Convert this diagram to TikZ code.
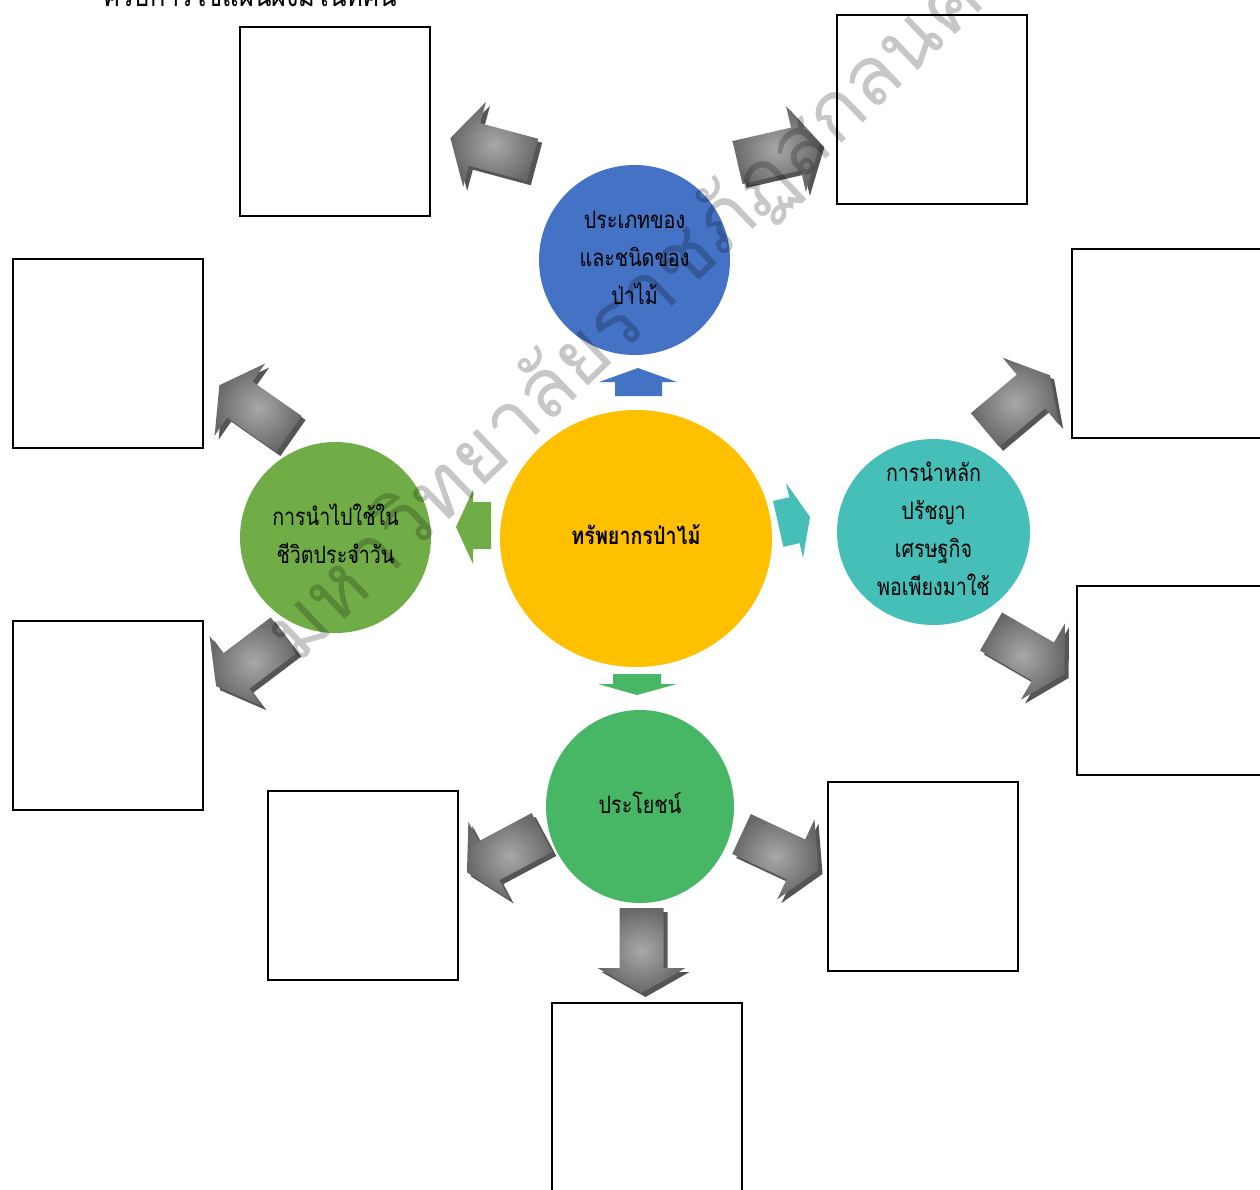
\documentclass[tikz,border=0pt]{standalone}
\usepackage{fontspec}
\newfontfamily\thai[Script=Thai]{Loma}
\newfontfamily\thaic[Script=Thai, FakeStretch=0.82]{Loma}
\usetikzlibrary{shapes.geometric}
\definecolor{cyel}{HTML}{FFC000}
\definecolor{cblue}{HTML}{4472C4}
\definecolor{cgreen}{HTML}{70AD47}
\definecolor{cteal}{HTML}{45BFB8}
\definecolor{cgreentwo}{HTML}{47B665}
\definecolor{gdark}{HTML}{555555}
\definecolor{glight}{HTML}{A8A8A8}
\definecolor{gout}{HTML}{686868}
\newcommand\garrow[3]{%
  \begin{scope}[shift={(#1+4,#2+4)},rotate=#3]
    \fill[gdark] (0,-22) -- (60,-22) -- (60,-44) -- (85,0) -- (60,44) -- (60,22) -- (0,22) -- cycle;
  \end{scope}
  \begin{scope}[shift={(#1,#2)},rotate=#3]
    \shade[inner color=glight, outer color=gout] (0,-22) -- (60,-22) -- (60,-44) -- (85,0) -- (60,44) -- (60,22) -- (0,22) -- cycle;
  \end{scope}}
\tikzset{
  box/.style={draw=black, line width=2pt, fill=white, minimum width=190pt, minimum height=189pt, inner sep=0pt},
  blob/.style={ellipse, draw=none, inner sep=0pt},
  lbl/.style={font=\thaic\fontsize{24}{38}\selectfont, align=center, inner sep=0pt, text=black},
}
\begin{document}
\begin{tikzpicture}[x=1pt,y=-1pt]
\useasboundingbox (0,0) rectangle (1260,1189);
\clip (0,0) rectangle (1260,1189);
\fill[white] (0,0) rectangle (1260,1189);

% title (cut at top)
\node[anchor=base west, font=\thaic\fontsize{31}{31}\selectfont, inner sep=0pt] (title) at (103,6) {ครบการใช้แผนผังมโนทัศน์};

% boxes
\node[box] (b1) at (335,121.5) {};
\node[box] (b2) at (932,109.5) {};
\node[box] (b3) at (107.5,353) {};
\node[box] (b4) at (1167,343.5) {};
\node[box] (b5) at (107.5,715) {};
\node[box] (b6) at (1172,680) {};
\node[box] (b7) at (363,885) {};
\node[box] (b8) at (923,876) {};
\node[box] (b9) at (647,1097) {};

% circles
\node[blob, fill=cyel, minimum width=272pt, minimum height=257pt] (res) at (636,538.5) {};
\node[blob, fill=cblue, minimum width=191pt, minimum height=190pt] (kind) at (634.5,260) {};
\node[blob, fill=cgreen, minimum width=191pt, minimum height=191pt] (use) at (335.5,537.5) {};
\node[blob, fill=cteal, minimum width=193pt, minimum height=186pt] (suff) at (933.5,532) {};
\node[blob, fill=cgreentwo, minimum width=188pt, minimum height=193pt] (ben) at (640,806.5) {};

\node[lbl, font=\thaic\fontsize{24}{38}\selectfont\bfseries] (rest) at ([yshift=4pt]res.center) {ทรัพยากรป่าไม้};
\node[lbl] (kindt) at ([yshift=2pt]kind.center) {ประเภทของ\\และชนิดของ\\ป่าไม้};
\node[lbl] (uset) at ([yshift=4pt]use.center) {การนำไปใช้ใน\\ชีวิตประจำวัน};
\node[lbl] (sufft) at ([yshift=3pt]suff.center) {การนำหลัก\\ปรัชญา\\เศรษฐกิจ\\พอเพียงมาใช้};
\node[lbl] (bent) at ([yshift=4pt]ben.center) {ประโยชน์};

% small coloured arrows
\fill[cblue] (615,396) -- (615,382) -- (599,382) -- (638,368) -- (677,382) -- (662,382) -- (662,396) -- cycle;
\fill[cgreen] (491,502) -- (473,502) -- (473,490) -- (456,527) -- (473,564) -- (473,549) -- (491,549) -- cycle;
\fill[cteal] (773,501) -- (789.2,497.3) -- (786,483) -- (810,517) -- (803,558) -- (799.6,543.1) -- (783.4,546.8) -- cycle;
\fill[cgreentwo] (613,674) -- (661,674) -- (661,684) -- (677,684) -- (637,695) -- (598,684) -- (613,684) -- cycle;

% grey 3D arrows
\garrow{532.5}{160}{165}
\garrow{737.5}{162.5}{13}
\garrow{289}{434}{145}
\garrow{284}{635}{217}
\garrow{985}{430}{40}
\garrow{991}{631.5}{-30}
\garrow{542}{832.5}{208}
\garrow{741.5}{834}{-25}
\garrow{641.5}{908}{-90}

% watermark
\node[rotate=43.8, font=\thai\fontsize{81.5}{81.5}\selectfont, text=black, opacity=0.22, inner sep=0pt] (wm) at (641,302) {มหาวิทยาลัยราชภัฏสกลนคร};
\end{tikzpicture}
\end{document}
